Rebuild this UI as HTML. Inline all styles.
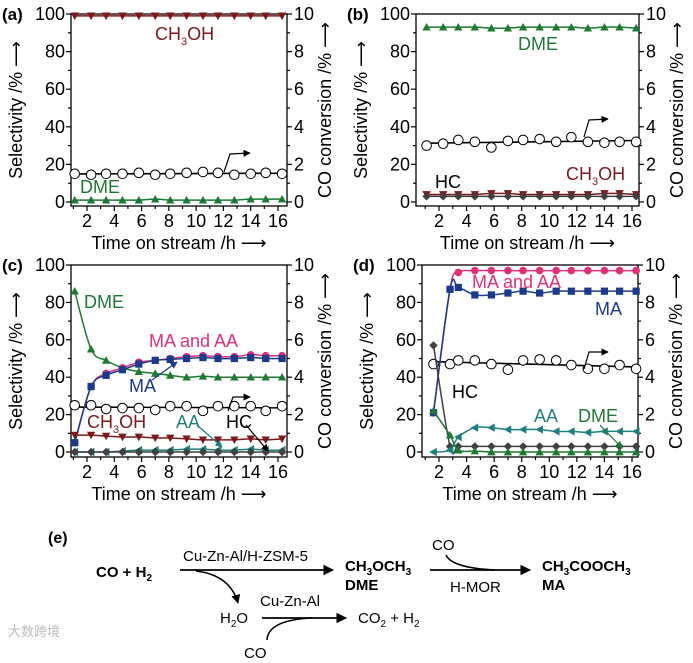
<!DOCTYPE html>
<html><head><meta charset="utf-8">
<style>
body{margin:0;background:#fff;}
svg{display:block;font-family:"Liberation Sans",Arial,sans-serif;}
</style></head>
<body>
<svg id="fig" width="693" height="663" viewBox="0 0 693 663">
<defs>
<marker id="ah" viewBox="0 0 10 10" refX="9" refY="5" markerWidth="6" markerHeight="6" orient="auto"><path d="M0,0 L10,5 L0,10 z" fill="#000"/></marker>
<marker id="ahb" viewBox="0 0 10 10" refX="9" refY="5" markerWidth="6" markerHeight="6" orient="auto"><path d="M0,0 L10,5 L0,10 z" fill="#1a3a8a"/></marker>
<marker id="aht" viewBox="0 0 10 10" refX="9" refY="5" markerWidth="6" markerHeight="6" orient="auto"><path d="M0,0 L10,5 L0,10 z" fill="#1f7f7f"/></marker>
<marker id="ahg" viewBox="0 0 10 10" refX="9" refY="5" markerWidth="6" markerHeight="6" orient="auto"><path d="M0,0 L10,5 L0,10 z" fill="#1e7a32"/></marker>
</defs>
</svg>
<script>
const timesA = [1.1,2.3,3.4,4.6,5.8,7.0,8.1,9.3,10.5,11.6,12.8,14.0,15.1,16.3];
const timesD = [1.6,2.8,3.4,4.6,5.8,7.0,8.1,9.3,10.5,11.6,12.8,14.0,15.1,16.3];
const xTickLabels = [2,4,6,8,10,12,14,16];
const yTickLabels = [0,20,40,60,80,100];
const y2TickLabels = [0,2,4,6,8,10];

const aCH3OH = [99,99,99,99,99,99,99,99,99,99,99,99,99,99];
const aDME = [1,1,1,1,1,1.5,1,1,1,1,1,1.5,1.5,1.5];
const aConv = [1.5,1.45,1.5,1.5,1.55,1.45,1.5,1.55,1.6,1.55,1.45,1.5,1.55,1.5];

const bDME = [93,93,93,93,92.5,92.5,93,93,93,93,92.5,93,93,92.5];
const bCH3OH = [4,4,4,4,4.5,4.5,4,4,4,4,4,4.5,4.5,4];
const bHC = [3,3,3,3,3,3,3,3,3,3,3,3,3,3];
const bConv = [3.0,3.1,3.3,3.2,2.9,3.25,3.3,3.35,3.2,3.45,3.2,3.15,3.2,3.2];

const cDME = [86,55,49,45,43,42,41,40,40.5,40,40,40,40,40];
const cMAAA = [5,35,42,45,48,49,50,51,51.5,51,51,52,51.5,51.5];
const cMA = [5,35,41,44,47,49,49.5,50,50.5,50,50,50.5,50,50];
const cCH3OH = [9,9,8.5,8,8,7.5,7.5,7,6.5,6.5,6.5,7,6.5,7];
const cAA = [0,0,0,0.5,1,1,1,1.5,1.5,1,1,1.5,1,1];
const cHC = [0,0,0,0,0,0,0,0,0,0,0,0,0,0];
const cConv = [2.5,2.5,2.3,2.35,2.35,2.25,2.45,2.45,2.2,2.45,2.45,2.45,2.2,2.45];

const dMAAA = [21,87,96,97,97,97,97,97,97,97,97,97,97,97];
const dMA = [21,87,88,84,84,85,86,85,86,86,86,86,86,86];
const dHC = [57,3,3,3,3,3,3,3,3,3,3,3,3,3];
const dAA = [0,1,8,13,13,12,12,12,11,11,10.5,11,11,11];
const dDME = [22,9,1,0.5,0,0,0,0,0,0,0,0,0,0];
const dConv = [4.7,4.7,4.9,4.9,4.7,4.4,4.9,4.95,4.9,4.65,4.45,4.45,4.65,4.45];

const C = {ch3oh:'#7a1a1a',dme:'#1e7a32',maaa:'#e0307a',ma:'#1a3a8a',aa:'#1f7f7f',hc:'#404040'};
const NS='http://www.w3.org/2000/svg';
const svg=document.getElementById('fig');
function mk(tag,attrs,parent){const e=document.createElementNS(NS,tag);for(const k in attrs)e.setAttribute(k,attrs[k]);(parent||svg).appendChild(e);return e;}
function txt(x,y,s,attrs,parent){const e=mk('text',Object.assign({x:x,y:y},attrs||{}),parent);e.innerHTML=s;return e;}

function panel(id,cfg){
  const g=mk('g',{});
  
  
  const X=t=>cfg.x2+(t-2)*(cfg.x16-cfg.x2)/14;
  const Y=v=>cfg.y0+(cfg.y100-cfg.y0)*v/100;
  const Y2=v=>Y(v*10);
  cfg.X=X;cfg.Y=Y;cfg.Y2=Y2;
  const box=mk('rect',{x:cfg.left,y:cfg.y100,width:cfg.right-cfg.left,height:cfg.bot-cfg.y100,fill:'none',stroke:'#000','stroke-width':1.3},g);
  
  
  for(let v=0;v<=100;v+=10){
    const major=v%20===0;const L=major?5:3;
    mk('line',{x1:cfg.left-L,x2:cfg.left,y1:Y(v),y2:Y(v),stroke:'#000','stroke-width':1.2},g);
    mk('line',{x1:cfg.right,x2:cfg.right+L,y1:Y(v),y2:Y(v),stroke:'#000','stroke-width':1.2},g);
  }
  yTickLabels.forEach(v=>{const t=txt(cfg.left-6,Y(v)+6,v,{'font-size':18,'text-anchor':'end'},g);
    });
  y2TickLabels.forEach(v=>{const t=txt(cfg.right+7,Y2(v)+6,v,{'font-size':18},g);
    });
  for(let t=1;t<=17;t++){
    const major=t%2===0;const L=major?5:3;
    const x=X(t); if(x<cfg.left||x>cfg.right)continue;
    mk('line',{x1:x,x2:x,y1:cfg.bot,y2:cfg.bot+L,stroke:'#000','stroke-width':1.2},g);
  }
  xTickLabels.forEach(v=>{const t=txt(X(v),cfg.bot+21,v,{'font-size':18,'text-anchor':'middle'},g);
    });
  const xt=txt((cfg.left+cfg.right)/2,cfg.bot+43,'Time on stream /h ⟶',{'font-size':18,'text-anchor':'middle'},g);
  
  const cy=(cfg.y100+cfg.bot)/2;
  const yt=txt(0,0,'Selectivity /% ⟶',{'font-size':18,'text-anchor':'middle',transform:`translate(${cfg.left-49},${cy}) rotate(-90)`},g);
  
  const y2t=txt(0,0,'CO conversion /% ⟶',{'font-size':18,'text-anchor':'middle',transform:`translate(${cfg.right+44},${cy}) rotate(-90)`},g);
  
  const pl=txt(cfg.left-69,cfg.y100+6,'('+id+')',{'font-size':17,'font-weight':'bold'},g);
  
  cfg.g=g;
  return cfg;
}
function marker(g,shape,x,y,col){
  const s=4.2;let e;
  if(shape==='up')e=mk('polygon',{points:`${x},${y-s} ${x-s},${y+s*0.8} ${x+s},${y+s*0.8}`,fill:col},g);
  else if(shape==='down')e=mk('polygon',{points:`${x},${y+s} ${x-s},${y-s*0.8} ${x+s},${y-s*0.8}`,fill:col},g);
  else if(shape==='left')e=mk('polygon',{points:`${x-s},${y} ${x+s*0.8},${y-s} ${x+s*0.8},${y+s}`,fill:col},g);
  else if(shape==='sq')e=mk('rect',{x:x-3.6,y:y-3.6,width:7.2,height:7.2,fill:col},g);
  else if(shape==='dia')e=mk('polygon',{points:`${x},${y-s} ${x+s},${y} ${x},${y+s} ${x-s},${y}`,fill:col},g);
  else if(shape==='dot')e=mk('circle',{cx:x,cy:y,r:3.8,fill:col},g);
  else if(shape==='open')e=mk('circle',{cx:x,cy:y,r:4.8,fill:'#fff',stroke:'#000','stroke-width':1},g);
  
  
}
function series(cfg,name,times,vals,shape,col,right){
  const g=mk('g',{},cfg.g);
  
  
  const yf=right?cfg.Y2:cfg.Y;
  const pts=times.map((t,i)=>[cfg.X(t),yf(vals[i])]);
  let d;
  if(right){
    const n=vals.length;let st=0,sv=0,stt=0,stv=0;
    times.forEach((t,i)=>{st+=t;sv+=vals[i];stt+=t*t;stv+=t*vals[i];});
    const b=(n*stv-st*sv)/(n*stt-st*st),a=(sv-b*st)/n;
    d=`M${cfg.X(times[0])},${yf(a+b*times[0])} L${cfg.X(times[n-1])},${yf(a+b*times[n-1])}`;
    mk('path',{d:d,fill:'none',stroke:'#000','stroke-width':1.6},g);
  } else {
    d='M'+pts[0][0]+','+pts[0][1];
    for(let i=0;i<pts.length-1;i++){
      const p0=pts[Math.max(i-1,0)],p1=pts[i],p2=pts[i+1],p3=pts[Math.min(i+2,pts.length-1)];
      d+=` C${p1[0]+(p2[0]-p0[0])/6},${p1[1]+(p2[1]-p0[1])/6} ${p2[0]-(p3[0]-p1[0])/6},${p2[1]-(p3[1]-p1[1])/6} ${p2[0]},${p2[1]}`;
    }
    mk('path',{d:d,fill:'none',stroke:col,'stroke-width':1.5},g);
  }
  pts.forEach(p=>marker(g,shape,p[0],p[1],col));
}
function label(cfg,x,y,html,col,name){
  const t=txt(x,y,html,{'font-size':18,fill:col},cfg.g);
  
  
}
function arrow(cfg,d,m,col){mk('path',{d:d,fill:'none',stroke:col||'#000','stroke-width':1.2,'marker-end':'url(#'+m+')'},cfg.g);}
const CH='CH<tspan font-size="11" dy="5">3</tspan><tspan dy="-5">OH</tspan>';

const pa=panel('a',{left:71,right:287,y100:14,y0:202,bot:206,x2:87,x16:278});
series(pa,'co-conversion',timesA,aConv,'open','#000',true);
series(pa,'ch3oh',timesA,aCH3OH,'down',C.ch3oh);
series(pa,'dme',timesA,aDME,'up',C.dme);
label(pa,155,40,CH,C.ch3oh,'ch3oh-label');
label(pa,80,193,'DME',C.dme,'dme-label');
arrow(pa,'M224,172 L230,154 L250,153','ah');

const pb=panel('b',{left:416,right:639,y100:14,y0:202,bot:206,x2:439,x16:632});
series(pb,'co-conversion',timesA,bConv,'open','#000',true);
series(pb,'dme',timesA,bDME,'up',C.dme);
series(pb,'ch3oh',timesA,bCH3OH,'down',C.ch3oh);
series(pb,'hc',timesA,bHC,'dia',C.hc);
label(pb,518,50,'DME',C.dme,'dme-label');
label(pb,435,188,'HC','#000','hc-label');
label(pb,566,180,CH,C.ch3oh,'ch3oh-label');
arrow(pb,'M584,137 L589,120 L608,119','ah');

const pc=panel('c',{left:71,right:287,y100:265,y0:452,bot:457,x2:87,x16:278});
series(pc,'co-conversion',timesA,cConv,'open','#000',true);
series(pc,'dme',timesA,cDME,'up',C.dme);
series(pc,'ma-and-aa',timesA,cMAAA,'dot',C.maaa);
series(pc,'ma',timesA,cMA,'sq',C.ma);
series(pc,'ch3oh',timesA,cCH3OH,'down',C.ch3oh);
series(pc,'aa',timesA,cAA,'left',C.aa);
series(pc,'hc',timesA,cHC,'dia',C.hc);
label(pc,84,308,'DME',C.dme,'dme-label');
label(pc,149,347,'MA and AA',C.maaa,'ma-and-aa-label');
label(pc,129,392,'MA',C.ma,'ma-label');
arrow(pc,'M152,380 L177,362','ahb',C.ma);
label(pc,87,428,CH,C.ch3oh,'ch3oh-label');
label(pc,176,428,'AA',C.aa,'aa-label');
arrow(pc,'M197,425 L222,447','aht',C.aa);
label(pc,226,428,'HC','#000','hc-label');
arrow(pc,'M246,425 L268,451','ah');
arrow(pc,'M228,411 L233,397 L250,397','ah');

const pd=panel('d',{left:422,right:638,y100:265,y0:452,bot:457,x2:439,x16:632});
series(pd,'co-conversion',timesD,dConv,'open','#000',true);
series(pd,'ma-and-aa',timesD,dMAAA,'dot',C.maaa);
series(pd,'ma',timesD,dMA,'sq',C.ma);
series(pd,'hc',timesD,dHC,'dia',C.hc);
series(pd,'aa',timesD,dAA,'left',C.aa);
series(pd,'dme',timesD,dDME,'up',C.dme);
label(pd,472,288,'MA and AA',C.maaa,'ma-and-aa-label');
label(pd,595,315,'MA',C.ma,'ma-label');
label(pd,452,398,'HC','#000','hc-label');
label(pd,534,422,'AA',C.aa,'aa-label');
label(pd,578,422,'DME',C.dme,'dme-label');
arrow(pd,'M600,425 L622,448','ahg',C.dme);
arrow(pd,'M584,369 L589,352 L608,352','ah');

const ge=mk('g',{'font-size':15});


function et(x,y,s,name,extra){const t=txt(x,y,s,extra||{},ge);}
et(48,543,'(e)','panel-label',{'font-weight':'bold','font-size':16});
et(96,577,'CO + H<tspan font-size="10" dy="4">2</tspan>','reactants',{'font-weight':'bold'});
mk('path',{d:'M180,570 L333,570',stroke:'#000','stroke-width':1.8,'marker-end':'url(#ah)'},ge);
et(183,561,'Cu-Zn-Al/H-ZSM-5','catalyst-label');
et(345,571,'CH<tspan font-size="10" dy="4">3</tspan><tspan dy="-4">OCH</tspan><tspan font-size="10" dy="4">3</tspan>','dme-formula',{'font-weight':'bold'});
et(345,590,'DME','dme-name',{'font-weight':'bold'});
mk('path',{d:'M430,570 L530,570',stroke:'#000','stroke-width':1.8,'marker-end':'url(#ah)'},ge);
mk('path',{d:'M446,555 Q452,568 495,570',fill:'none',stroke:'#000','stroke-width':1.5},ge);
et(432,550,'CO','co-reagent');
et(450,592,'H-MOR','h-mor-label');
et(542,571,'CH<tspan font-size="10" dy="4">3</tspan><tspan dy="-4">COOCH</tspan><tspan font-size="10" dy="4">3</tspan>','ma-formula',{'font-weight':'bold'});
et(542,590,'MA','ma-name',{'font-weight':'bold'});
mk('path',{d:'M196,571 Q230,575 238,603',fill:'none',stroke:'#000','stroke-width':1.5,'marker-end':'url(#ah)'},ge);
et(220,623,'H<tspan font-size="10" dy="4">2</tspan><tspan dy="-4">O</tspan>','h2o');
mk('path',{d:'M262,618 L346,618',stroke:'#000','stroke-width':1.8,'marker-end':'url(#ah)'},ge);
mk('path',{d:'M267,640 Q268,620 312,618',fill:'none',stroke:'#000','stroke-width':1.5},ge);
et(260,606,'Cu-Zn-Al','cu-zn-al-label');
et(358,623,'CO<tspan font-size="10" dy="4">2</tspan><tspan dy="-4"> + H</tspan><tspan font-size="10" dy="4">2</tspan>','products');
et(244,658,'CO','co-reagent-2');
et(8,636,'大数跨境','watermark',{'font-family':'"Liberation Sans","Noto Sans CJK SC",sans-serif','font-size':13,fill:'#bbb'});
</script>
</body></html>
